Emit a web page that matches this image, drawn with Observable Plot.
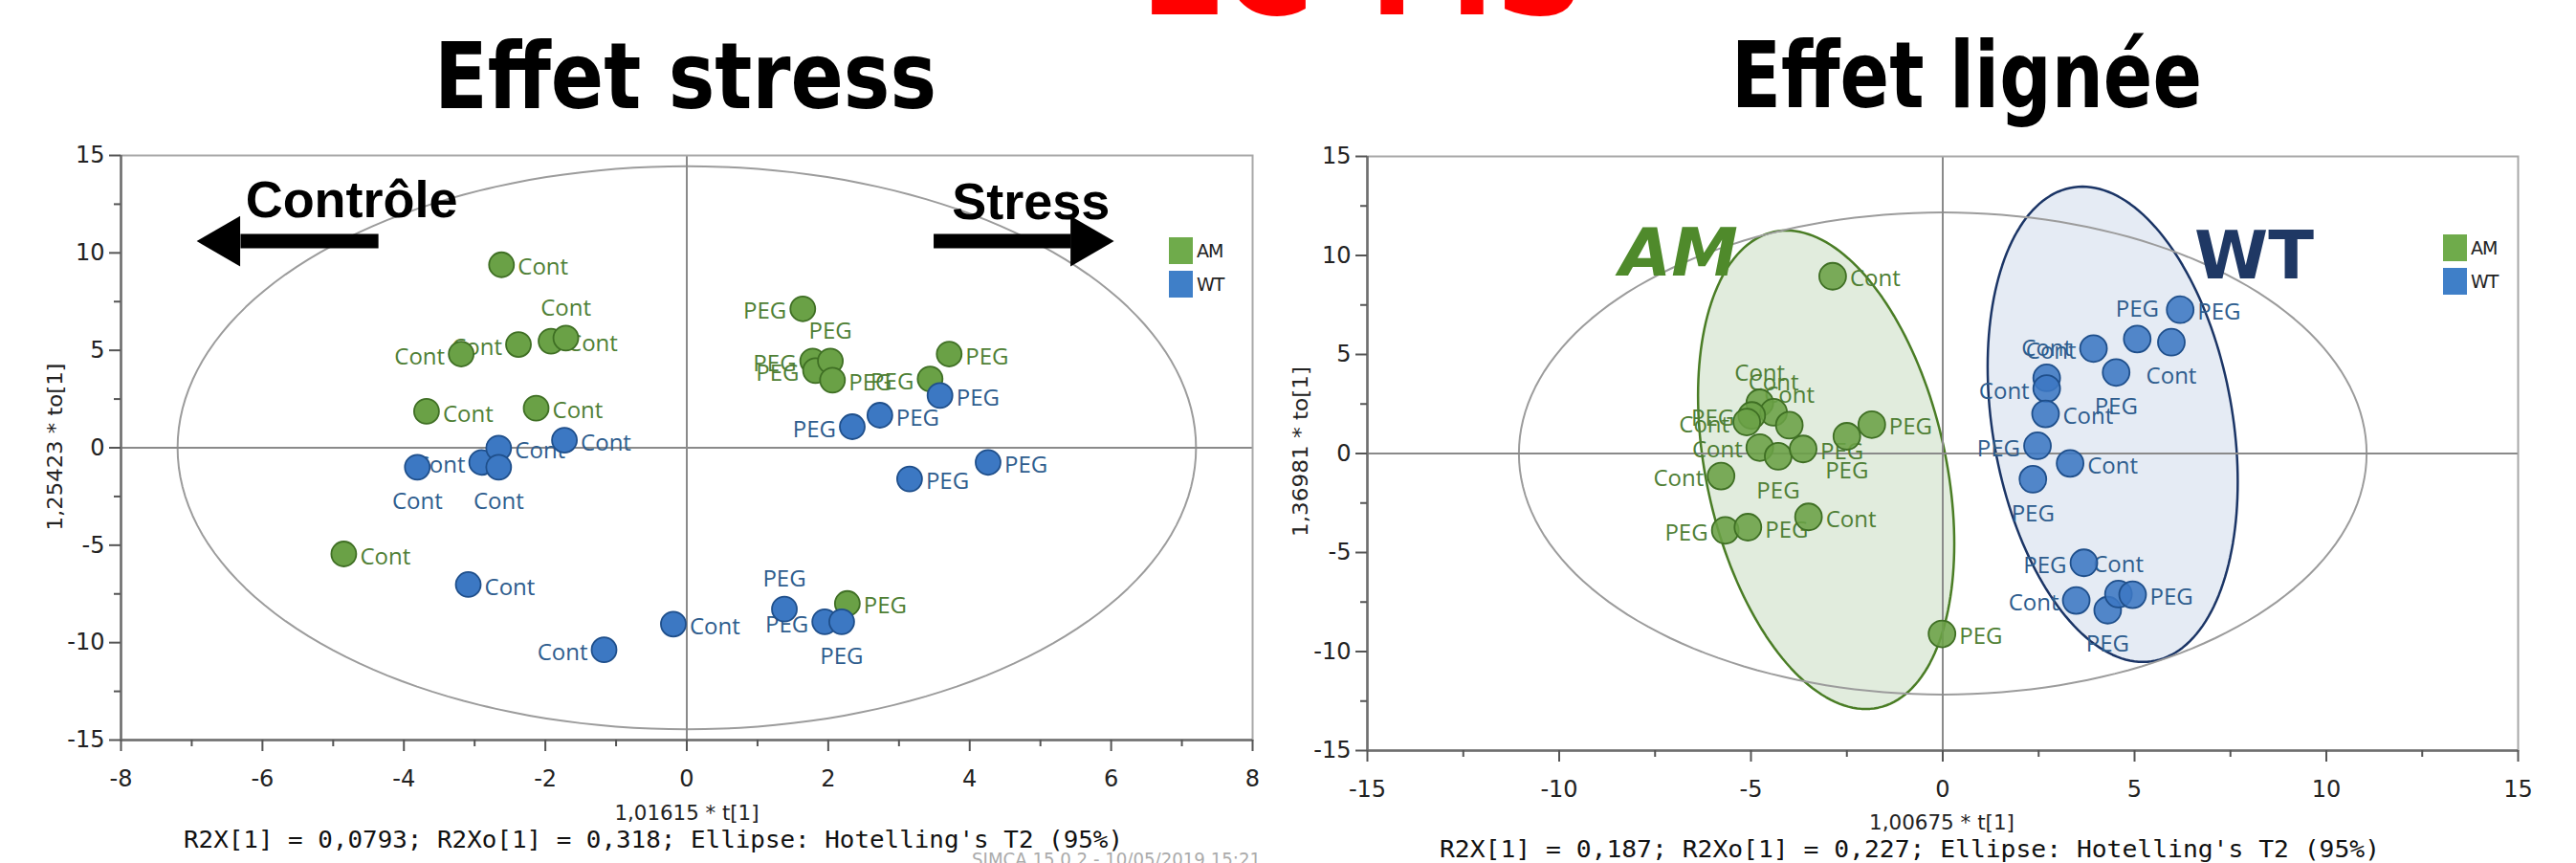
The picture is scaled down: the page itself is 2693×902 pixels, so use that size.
<!DOCTYPE html>
<html><head><meta charset="utf-8">
<script src="https://cdn.jsdelivr.net/npm/d3@7"></script>
<script src="https://cdn.jsdelivr.net/npm/@observablehq/plot@0.6"></script>
<style>
html,body{margin:0;padding:0;background:#fff;}
#page{position:relative;width:2693px;height:902px;overflow:hidden;background:#fff;}
</style></head>
<body><div id="page"></div>
<script>
// ---------------- Données ----------------
const lignees = ["AM", "WT"];
const traitements = ["Cont", "PEG"];

// Effet stress : score t[1] (x) et to[1] (y)
const stressAM_t1  = [-2.62,-3.19,-2.38,-1.92,-1.71,-3.68,-2.13,-4.85, 1.64,1.78,1.82,2.03,2.06,3.44,3.71,2.27];
const stressAM_to1 = [ 9.39, 4.81, 5.30, 5.47, 5.63, 1.87, 2.03,-5.45, 7.13,4.45,3.96,4.45,3.47,3.53,4.81,-7.99];
const stressAM_trait = ["Cont","Cont","Cont","Cont","Cont","Cont","Cont","Cont","PEG","PEG","PEG","PEG","PEG","PEG","PEG","PEG"];
const stressAM_pos = ["r","l","l","r","t","r","r","r","l","l","l","t","r","l","r","r"];

const stressWT_t1  = [-3.81,-2.90,-2.66,-2.66,-1.73,-3.09,-1.17,-0.19, 1.38, 1.95, 2.19,3.58,2.34,2.73, 4.26, 3.15];
const stressWT_to1 = [-1.00,-0.75,-0.02,-1.00, 0.39,-7.02,-10.37,-9.05,-8.28,-8.93,-8.93,2.68,1.08,1.67,-0.75,-1.60];
const stressWT_trait = ["Cont","Cont","Cont","Cont","Cont","Cont","Cont","Cont","PEG","PEG","PEG","PEG","PEG","PEG","PEG","PEG"];
const stressWT_pos = ["b","l","r","b","r","r","l","r","t","l","b","r","l","r","r","r"];

// Effet lignée
const ligneeAM_t1  = [-2.87,-4.77,-4.41,-4.00,-4.98,-5.11,-4.77,-4.29,-3.64,-2.50,-1.85,-5.78,-5.67,-5.08,-3.50,-0.02];
const ligneeAM_to1 = [ 8.95, 2.56, 2.08, 1.43, 1.92, 1.59, 0.30,-0.14, 0.23, 0.87, 1.46,-1.14,-3.88,-3.72,-3.20,-9.11];
const ligneeAM_trait = ["Cont","Cont","Cont","Cont","PEG","Cont","Cont","PEG","PEG","PEG","PEG","Cont","PEG","PEG","Cont","PEG"];
const ligneeAM_pos = ["r","t","t","t","l","l","l","b","r","b","r","l","l","r","r","r"];

const ligneeWT_t1  = [6.19,5.07,5.96,3.93,4.52,2.71,2.71,2.68,2.47, 3.32, 2.35, 3.68, 3.48, 4.30, 4.58, 4.95];
const ligneeWT_to1 = [7.26,5.78,5.62,5.30,4.09,3.82,3.28,2.00,0.39,-0.50,-1.30,-5.52,-7.42,-7.91,-7.10,-7.13];
const ligneeWT_trait = ["PEG","PEG","Cont","Cont","PEG","Cont","Cont","Cont","PEG","Cont","PEG","PEG","Cont","PEG","Cont","PEG"];
const ligneeWT_pos = ["r","t","b","l","b","t","l","r","l","r","b","l","l","b","t","r"];

// Ellipses : [cx, cy, demi-axe x, demi-axe y, déphasage°]
const stressHotelling = [0, 0, 7.2, 14.45, 90];
const ligneeHotelling = [0, 0, 11.05, 12.17, 90];
const ligneeGroupAM = [-3.04, -0.82, 3.34, 12.08, 108];
const ligneeGroupWT = [4.43, 1.475, 3.26, 12.0, 104];

// Ticks
const stressXTicks = [-8,-6,-4,-2,0,2,4,6,8];
const stressXMinor = [-7,-5,-3,-1,1,3,5,7];
const ligneeXTicks = [-15,-10,-5,0,5,10,15];
const ligneeXMinor = [-12.5,-7.5,-2.5,2.5,7.5,12.5];
const yTicks = [-15,-10,-5,0,5,10,15];
const yMinor = [-12.5,-7.5,-2.5,2.5,7.5,12.5];

// Annotations
const stressNotes = [{text:"Contrôle", x:-6.24, y:12.7}, {text:"Stress", x:3.75, y:12.6}];
const stressShafts = [{x1:-4.36, x2:-6.31, y:10.6}, {x1:3.49, x2:5.43, y:10.6}];
const stressHeads = [{x:-6.52, y:10.6, rot:-90}, {x:5.63, y:10.6, rot:90}];
const ligneeNotes = [{text:"AM", x:-8.43, y:10.07}, {text:"WT", x:6.56, y:9.9}];

// ---------------- Styles ----------------
const col = {
  AM: {fill:"#6aa146", stroke:"#3f6f24", text:"#4f7f35", legend:"#6fab4b"},
  WT: {fill:"#3c78c3", stroke:"#1f4f8b", text:"#2e5d8e", legend:"#3f7fc8"}
};
const page = document.getElementById("page");
function place(node, left, top) {
  const w = document.createElement("div");
  w.style.position = "absolute"; w.style.left = left + "px"; w.style.top = top + "px";
  w.appendChild(node); page.appendChild(w);
}
function ellipse([cx, cy, ax, ay, delta]) {
  const d = delta * Math.PI / 180;
  return d3.range(0, 360, 2).map(a => {
    const t = a * Math.PI / 180;
    return {x: cx + ax * Math.cos(t), y: cy + ay * Math.cos(t - d)};
  });
}
function rows(name, t1, to1, trait, pos) {
  return t1.map((x, i) => ({lig: name, x, y: to1[i], trait: trait[i], pos: pos[i]}));
}

function pcaChart(o) {
  const marks = [];
  for (const g of (o.groupEll || [])) {
    marks.push(Plot.line(ellipse(g.p), {x:"x", y:"y", curve:"linear-closed", fill:g.fill, fillOpacity:g.fo, stroke:g.stroke, strokeWidth:2.5}));
  }
  marks.push(Plot.line(ellipse(o.hotelling), {x:"x", y:"y", curve:"linear-closed", stroke:"#9c9c9c", strokeWidth:2}));
  marks.push(Plot.ruleX([0], {stroke:"#8a8a8a", strokeWidth:2}));
  marks.push(Plot.ruleY([0], {stroke:"#8a8a8a", strokeWidth:2}));
  marks.push(Plot.frame({stroke:"#a8a8a8", strokeWidth:2}));
  marks.push(Plot.ruleX([o.xDomain[0]], {stroke:"#6e6e6e", strokeWidth:2.5}));
  marks.push(Plot.ruleY([-15], {stroke:"#6e6e6e", strokeWidth:2.5}));
  marks.push(Plot.axisX(o.xTicks, {tickSize:12, tickPadding:19, fontSize:24, tickFormat:d => String(d), label:null, stroke:"#555", strokeWidth:2, fill:"#222"}));
  marks.push(Plot.axisX(o.xMinor, {tickSize:7, tickFormat:() => "", label:null, stroke:"#555", strokeWidth:2}));
  marks.push(Plot.axisY(yTicks, {tickSize:12, tickPadding:5, fontSize:24, tickFormat:d => String(d), label:null, stroke:"#555", strokeWidth:2, fill:"#222"}));
  marks.push(Plot.axisY(yMinor, {tickSize:7, tickFormat:() => "", label:null, stroke:"#555", strokeWidth:2}));
  const off = o.r + 4;
  const side = {
    r: {textAnchor:"start", dx: off, dy: 3},
    l: {textAnchor:"end", dx: -off, dy: 3},
    t: {textAnchor:"middle", dx: 0, dy: -31},
    b: {textAnchor:"middle", dx: 0, dy: 36}
  };
  for (const g of o.groups) {
    for (const s of Object.keys(side)) {
      marks.push(Plot.text(g.data.filter(d => d.pos === s), {x:"x", y:"y", text:"trait", fill:col[g.name].text, fontSize:24, fontFamily:"Open Sans", ...side[s]}));
    }
  }
  for (const g of o.groups) {
    marks.push(Plot.dot(g.data, {x:"x", y:"y", r:o.r, fill:col[g.name].fill, fillOpacity:o.fo, stroke:col[g.name].stroke, strokeWidth:1.8}));
  }
  marks.push(...(o.extra || []));
  return Plot.plot({
    width:o.width, height:o.height,
    marginLeft:o.ml, marginRight:o.mr, marginTop:o.mt, marginBottom:o.mb,
    x:{domain:o.xDomain}, y:{domain:[-15,15]},
    style:{fontFamily:"DejaVu Sans", background:"transparent", overflow:"visible"},
    marks
  });
}

// ---- Graphique 1 : Effet stress ----
const stressChart = pcaChart({
  width:1340, height:693, ml:126, mr:31, mt:22, mb:60,
  xDomain:[-8,8], xTicks:stressXTicks, xMinor:stressXMinor, r:13, fo:1,
  hotelling:stressHotelling,
  groups:[
    {name:"AM", data:rows("AM", stressAM_t1, stressAM_to1, stressAM_trait, stressAM_pos)},
    {name:"WT", data:rows("WT", stressWT_t1, stressWT_to1, stressWT_trait, stressWT_pos)}
  ],
  extra:[
    Plot.link(stressShafts, {x1:"x1", x2:"x2", y1:"y", y2:"y", stroke:"#000", strokeWidth:15}),
    Plot.dot(stressHeads, {x:"x", y:"y", symbol:"triangle", r:19.5, fill:"#000", rotate:"rot"}),
    Plot.text(stressNotes, {x:"x", y:"y", text:"text", textAnchor:"start", fontSize:54, fontWeight:"bold", fontFamily:"Liberation Sans", fill:"#000"})
  ]
});
place(stressChart, 0, 140);

// ---- Graphique 2 : Effet lignée ----
const ligneeChart = pcaChart({
  width:1353, height:704, ml:89, mr:61, mt:23, mb:60,
  xDomain:[-15,15], xTicks:ligneeXTicks, xMinor:ligneeXMinor, r:14, fo:0.88,
  hotelling:ligneeHotelling,
  groupEll:[
    {p:ligneeGroupAM, fill:"#8db57a", fo:0.26, stroke:"#4a7d25"},
    {p:ligneeGroupWT, fill:"#8aa3cc", fo:0.22, stroke:"#1b3566"}
  ],
  groups:[
    {name:"AM", data:rows("AM", ligneeAM_t1, ligneeAM_to1, ligneeAM_trait, ligneeAM_pos)},
    {name:"WT", data:rows("WT", ligneeWT_t1, ligneeWT_to1, ligneeWT_trait, ligneeWT_pos)}
  ],
  extra:[
    Plot.text(ligneeNotes.slice(0,1), {x:"x", y:"y", text:"text", textAnchor:"start", fontSize:70, fontWeight:"bold", fontStyle:"italic", fontFamily:"DejaVu Sans", fill:"#4f8a2b"}),
    Plot.text(ligneeNotes.slice(1), {x:"x", y:"y", text:"text", textAnchor:"start", fontSize:70, fontWeight:"bold", fontFamily:"DejaVu Sans", fill:"#1f3864"})
  ]
});
place(ligneeChart, 1340, 140);

// ---- Légendes ----
function legend(left, top) {
  const div = document.createElement("div");
  div.style.font = "19px 'DejaVu Sans'";
  div.style.color = "#222";
  lignees.forEach(l => {
    const row = document.createElement("div");
    row.style.display = "flex"; row.style.alignItems = "center"; row.style.height = "28px"; row.style.marginBottom = "7px";
    const sq = document.createElement("div");
    sq.style.width = "25px"; sq.style.height = "28px"; sq.style.background = col[l].legend; sq.style.marginRight = "4px";
    const tx = document.createElement("span"); tx.textContent = l; tx.style.letterSpacing = "-1px";
    row.appendChild(sq); row.appendChild(tx); div.appendChild(row);
  });
  place(div, left, top);
}
legend(1222, 248);
legend(2554, 245);

// ---- Textes (titres, axes, légendes SIMCA) ----
const texts = [
  {t:"LC-MS", x:1192, y:15, size:150, fam:"DejaVu Sans", w:"bold", fill:"#ff0000", len:466},
  {t:"Effet stress", x:454, y:113, size:96, fam:"DejaVu Sans", w:"bold", fill:"#000", len:525},
  {t:"Effet lignée", x:1810, y:112, size:96, fam:"DejaVu Sans", w:"bold", fill:"#000", len:492},
  {t:"1,25423 * to[1]", x:65, y:467, size:22, fam:"DejaVu Sans", fill:"#222", len:175, anchor:"middle", rot:-90},
  {t:"1,36981 * to[1]", x:1367, y:472, size:22, fam:"DejaVu Sans", fill:"#222", len:178, anchor:"middle", rot:-90},
  {t:"1,01615 * t[1]", x:718, y:857, size:21, fam:"DejaVu Sans", fill:"#222", len:151, anchor:"middle"},
  {t:"1,00675 * t[1]", x:2030, y:867, size:21, fam:"DejaVu Sans", fill:"#222", len:152, anchor:"middle"},
  {t:"R2X[1] = 0,0793; R2Xo[1] = 0,318; Ellipse: Hotelling's T2 (95%)", x:192, y:886, size:25, fam:"DejaVu Sans Mono", fill:"#111", len:982},
  {t:"R2X[1] = 0,187; R2Xo[1] = 0,227; Ellipse: Hotelling's T2 (95%)", x:1505, y:896, size:25, fam:"DejaVu Sans Mono", fill:"#111", len:983},
  {t:"SIMCA 15.0.2 - 10/05/2019 15:21", x:1016, y:905, size:20, fam:"DejaVu Sans", fill:"#ababab", len:302}
];
const svg = d3.select(page).append("svg")
  .attr("width", 2693).attr("height", 902)
  .style("position", "absolute").style("left", "0px").style("top", "0px").style("pointer-events", "none");
texts.forEach(d => {
  const el = svg.append("text").text(d.t)
    .attr("x", d.x).attr("y", d.y)
    .attr("font-family", d.fam).attr("font-size", d.size)
    .attr("font-weight", d.w || "normal").attr("fill", d.fill)
    .attr("text-anchor", d.anchor || "start")
    .attr("textLength", d.len).attr("lengthAdjust", "spacingAndGlyphs");
  if (d.rot) el.attr("transform", `rotate(${d.rot},${d.x},${d.y})`);
});
</script>
</body></html>
